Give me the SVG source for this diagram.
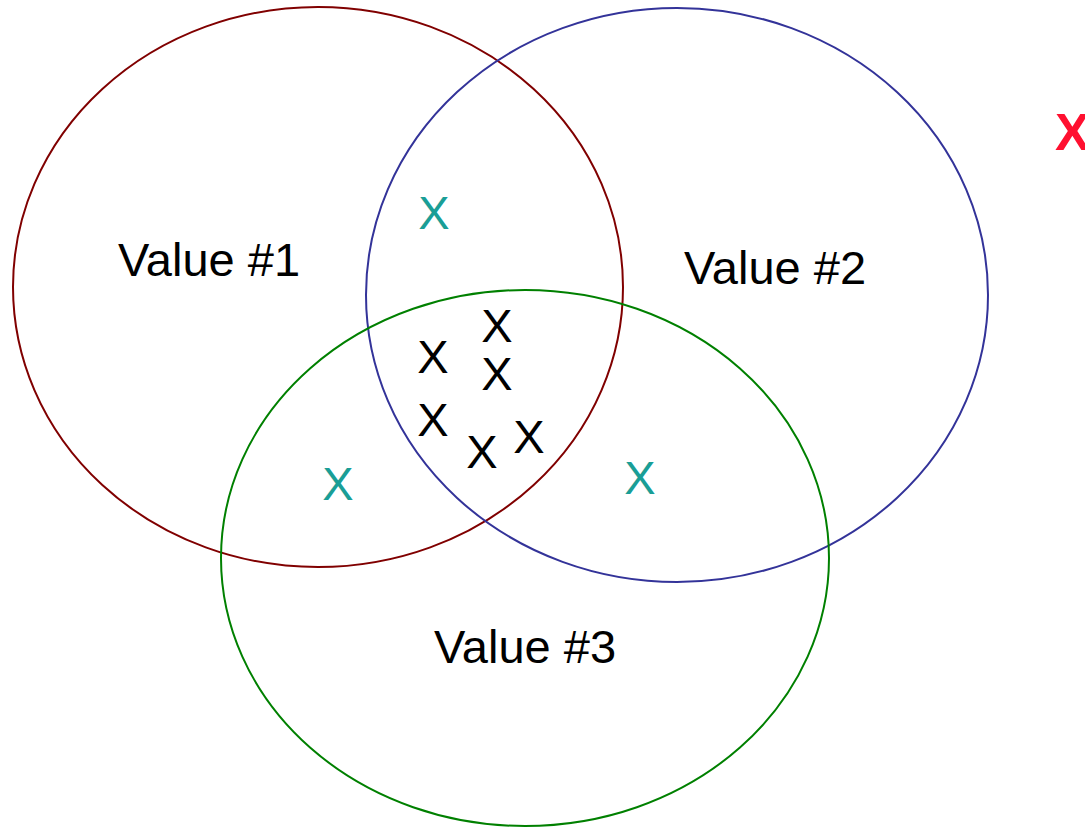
<svg xmlns="http://www.w3.org/2000/svg" width="1085" height="828" viewBox="0 0 1085 828">
  <style>
    .set { fill: none; stroke-width: 2; }
    .label { font-family: "Liberation Sans", Arial, sans-serif; font-size: 47px; fill: #000; text-anchor: middle; }
    .teal { fill: #1a9e96; }
    .out { fill: #ff1030; font-weight: bold; font-size: 52px; text-anchor: start; }
  </style>
  <rect width="1085" height="828" fill="#fff"/>
  <g id="sets">
    <g id="set1"><ellipse class="set" cx="318" cy="287" rx="305" ry="280" stroke="#800000"/></g>
    <g id="set2"><ellipse class="set" cx="677" cy="295" rx="311" ry="287" stroke="#333399"/></g>
    <g id="set3"><ellipse class="set" cx="525" cy="558" rx="304" ry="268" stroke="#008000"/></g>
  </g>
  <g id="labels">
    <text class="label" x="209" y="276">Value #1</text>
    <text class="label" x="775" y="284">Value #2</text>
    <text class="label" x="525" y="663">Value #3</text>
  </g>
  <g id="marks">
    <text class="label" x="497" y="342">X</text>
    <text class="label" x="433" y="373">X</text>
    <text class="label" x="497" y="390">X</text>
    <text class="label" x="433" y="436">X</text>
    <text class="label" x="482" y="468">X</text>
    <text class="label" x="529" y="453">X</text>
    <text class="label teal" x="434" y="229">X</text>
    <text class="label teal" x="338" y="500">X</text>
    <text class="label teal" x="640" y="494">X</text>
    <text class="label out" x="1055" y="150">X</text>
  </g>
</svg>
